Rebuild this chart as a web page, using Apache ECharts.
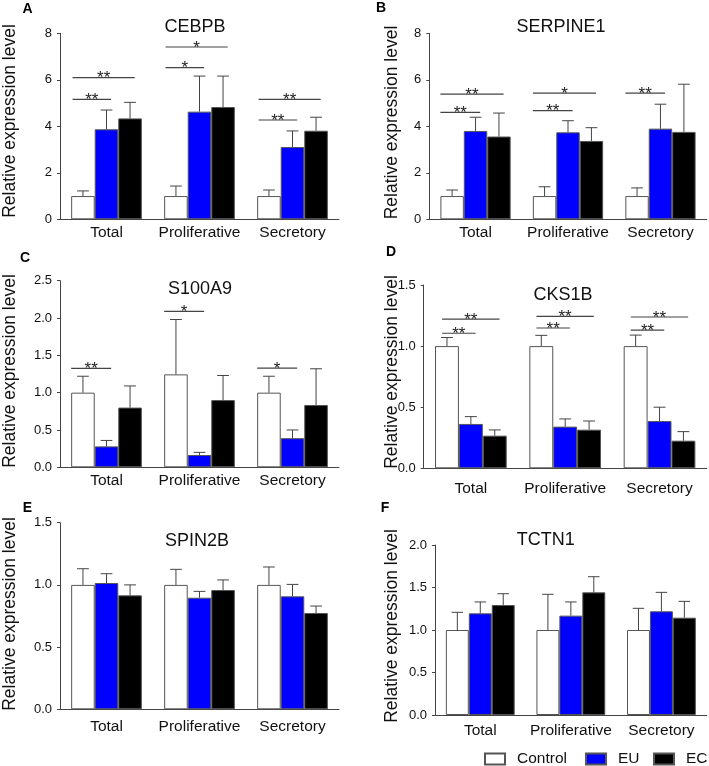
<!DOCTYPE html>
<html><head><meta charset="utf-8">
<script src="https://cdn.jsdelivr.net/npm/echarts@6/dist/echarts.min.js"></script>
<style>html,body{margin:0;padding:0;background:#fff}#c{width:709px;height:766px}</style>
</head><body><div id="c"></div>
<script>
const FONT = '"Liberation Sans", Arial, sans-serif';
const categories = ['Total', 'Proliferative', 'Secretory'];
const seriesNames = ['Control', 'EU', 'EC'];
const seriesColors = ['#ffffff', '#0000ff', '#000000'];
const yTitle = 'Relative expression level';

// A: CEBPB
const cebpbControl = [1.0, 1.0, 1.0];
const cebpbEU = [3.87, 4.63, 3.11];
const cebpbEC = [4.34, 4.83, 3.81];
const cebpbControlErr = [0.22, 0.43, 0.26];
const cebpbEUErr = [0.83, 1.53, 0.69];
const cebpbECErr = [0.69, 1.33, 0.58];
const cebpbTicks = [0, 2, 4, 6, 8];
const cebpbSig = [[0, 1, 5.16, '**'], [0, 2, 6.09, '**'], [1, 1, 6.52, '*'], [1, 2, 7.41, '*'], [2, 1, 4.27, '**'], [2, 2, 5.16, '**']];

// B: SERPINE1
const serpineControl = [1.0, 1.0, 1.0];
const serpineEU = [3.80, 3.74, 3.90];
const serpineEC = [3.56, 3.37, 3.76];
const serpineControlErr = [0.26, 0.40, 0.35];
const serpineEUErr = [0.59, 0.50, 1.05];
const serpineECErr = [1.01, 0.57, 2.05];
const serpineTicks = [0, 2, 4, 6, 8];
const serpineSig = [[0, 1, 4.60, '**'], [0, 2, 5.38, '**'], [1, 1, 4.67, '**'], [1, 2, 5.43, '*'], [2, 1, 5.43, '**']];

// C: S100A9
const s100Control = [1.0, 1.245, 1.0];
const s100EU = [0.28, 0.165, 0.39];
const s100EC = [0.80, 0.90, 0.835];
const s100ControlErr = [0.22, 0.735, 0.22];
const s100EUErr = [0.08, 0.035, 0.11];
const s100ECErr = [0.29, 0.33, 0.485];
const s100Ticks = [0, 0.5, 1.0, 1.5, 2.0, 2.5];
const s100Sig = [[0, 1, 1.326, '**'], [1, 1, 2.09, '*'], [2, 1, 1.33, '*']];

// D: CKS1B
const cksControl = [1.0, 1.0, 1.0];
const cksEU = [0.363, 0.341, 0.387];
const cksEC = [0.267, 0.316, 0.226];
const cksControlErr = [0.07, 0.088, 0.09];
const cksEUErr = [0.06, 0.063, 0.113];
const cksECErr = [0.047, 0.071, 0.074];
const cksTicks = [0, 0.5, 1.0, 1.5];
const cksSig = [[0, 1, 1.105, '**'], [0, 2, 1.22, '**'], [1, 1, 1.148, '**'], [1, 2, 1.244, '**'], [2, 1, 1.13, '**'], [2, 2, 1.238, '**']];

// E: SPIN2B
const spinControl = [1.0, 1.0, 1.0];
const spinEU = [1.015, 0.897, 0.908];
const spinEC = [0.916, 0.959, 0.774];
const spinControlErr = [0.13, 0.125, 0.144];
const spinEUErr = [0.075, 0.051, 0.096];
const spinECErr = [0.084, 0.081, 0.056];
const spinTicks = [0, 0.5, 1.0, 1.5];
const spinSig = [];

// F: TCTN1
const tctnControl = [1.0, 1.0, 1.0];
const tctnEU = [1.196, 1.169, 1.22];
const tctnEC = [1.294, 1.443, 1.145];
const tctnControlErr = [0.208, 0.42, 0.255];
const tctnEUErr = [0.134, 0.161, 0.223];
const tctnECErr = [0.133, 0.184, 0.192];
const tctnTicks = [0, 0.5, 1.0, 1.5, 2.0];
const tctnSig = [];

const panels = [
  {letter: 'A', gene: 'CEBPB', means: [cebpbControl, cebpbEU, cebpbEC], errs: [cebpbControlErr, cebpbEUErr, cebpbECErr], ticks: cebpbTicks, sig: cebpbSig},
  {letter: 'B', gene: 'SERPINE1', means: [serpineControl, serpineEU, serpineEC], errs: [serpineControlErr, serpineEUErr, serpineECErr], ticks: serpineTicks, sig: serpineSig},
  {letter: 'C', gene: 'S100A9', means: [s100Control, s100EU, s100EC], errs: [s100ControlErr, s100EUErr, s100ECErr], ticks: s100Ticks, sig: s100Sig},
  {letter: 'D', gene: 'CKS1B', means: [cksControl, cksEU, cksEC], errs: [cksControlErr, cksEUErr, cksECErr], ticks: cksTicks, sig: cksSig},
  {letter: 'E', gene: 'SPIN2B', means: [spinControl, spinEU, spinEC], errs: [spinControlErr, spinEUErr, spinECErr], ticks: spinTicks, sig: spinSig},
  {letter: 'F', gene: 'TCTN1', means: [tctnControl, tctnEU, tctnEC], errs: [tctnControlErr, tctnEUErr, tctnECErr], ticks: tctnTicks, sig: tctnSig}
];

// layout (pixels)
const layouts = [
  {left: 60, top: 33.3, width: 279, height: 186, titleX: 195, titleY: 29, letterX: 27.5, letterY: 9, yTitleX: 10, yTitleY: 121, labelMargin: 5, inset: 0.015},
  {left: 429.3, top: 33.3, width: 277.4, height: 186, titleX: 561, titleY: 29, letterX: 381, letterY: 8, yTitleX: 392, yTitleY: 122.5, labelMargin: 5, inset: 0.0},
  {left: 60, top: 280.7, width: 279, height: 186.6, titleX: 200, titleY: 291, letterX: 25, letterY: 258, yTitleX: 10, yTitleY: 371, labelMargin: 5, inset: 0.0},
  {left: 423.7, top: 285, width: 283, height: 183.3, titleX: 563, titleY: 297, letterX: 391, letterY: 252, yTitleX: 392, yTitleY: 372, labelMargin: 12, inset: 0.075},
  {left: 60, top: 522.7, width: 279, height: 186.6, titleX: 197, titleY: 542.7, letterX: 27.5, letterY: 508, yTitleX: 10, yTitleY: 614, labelMargin: 9, inset: 0},
  {left: 435, top: 545, width: 271.7, height: 170, titleX: 545.7, titleY: 541.7, letterX: 385, letterY: 508, yTitleX: 392, yTitleY: 626, labelMargin: 8, inset: 0}
];

const GAP = 0.24;
const AXIS = '#444';
const TEXT = '#111';

const option = {
  animation: false,
  backgroundColor: '#fff',
  grid: [], xAxis: [], yAxis: [], series: [], title: [], graphic: [],
  legend: [
    {data: ['Control'], left: 484, top: 751},
    {data: ['EU'], left: 585, top: 751},
    {data: ['EC'], left: 653, top: 751}
  ].map(l => Object.assign(l, {
    orient: 'horizontal', padding: 0, itemWidth: 20, itemHeight: 11, icon: 'rect', selectedMode: false,
    textStyle: {fontSize: 15.5, color: TEXT, fontFamily: FONT, padding: [0, 0, 0, 7]}
  }))
};

panels.forEach((P, k) => {
  const L = layouts[k];
  const t = P.ticks;
  const dec = Number.isInteger(t[1]) ? 0 : 1;
  option.grid.push({left: L.left, top: L.top, width: L.width, height: L.height});
  option.xAxis.push({
    type: 'category', gridIndex: k, data: categories,
    axisLine: {lineStyle: {color: AXIS, width: 1}}, axisTick: {show: false},
    axisLabel: {interval: 0, hideOverlap: false, margin: L.labelMargin, fontSize: 15.5, color: TEXT, fontFamily: FONT},
    splitLine: {show: false}
  });
  option.yAxis.push({
    type: 'value', gridIndex: k, min: t[0], max: t[t.length - 1], interval: t[1] - t[0],
    axisLine: {show: true, lineStyle: {color: AXIS, width: 1}},
    axisTick: {show: true, inside: false, length: 3, lineStyle: {color: AXIS}},
    axisLabel: {margin: 8, fontSize: 13, color: TEXT, fontFamily: FONT, formatter: v => v.toFixed(dec)},
    splitLine: {show: false}
  });
  seriesNames.forEach((nm, s) => {
    option.series.push({
      type: 'bar', name: nm, xAxisIndex: k, yAxisIndex: k, data: P.means[s],
      barGap: '0%', barCategoryGap: (GAP * 100) + '%', z: 2,
      itemStyle: {color: seriesColors[s], borderColor: '#555', borderWidth: 1}
    });
  });
  // error bars (upper only)
  seriesNames.forEach((nm, s) => {
    option.series.push({
      type: 'custom', name: nm + ' error', xAxisIndex: k, yAxisIndex: k, z: 3, silent: true,
      data: P.means[s].map((m, i) => [i, m, P.errs[s][i]]),
      encode: {x: 0, y: 1},
      renderItem: (params, api) => {
        const i = api.value(0), m = api.value(1), e = api.value(2);
        const base = api.coord([i, m]);
        const top = api.coord([i, m + e]);
        const bandW = api.size([1, 0])[0];
        const bw = bandW * (1 - GAP) / 3;
        const x = base[0] - bandW * (1 - GAP) / 2 + bw * (s + 0.5);
        const cap = bw * 0.25;
        const st = {stroke: '#444', lineWidth: 1};
        return {type: 'group', children: [
          {type: 'line', shape: {x1: x, y1: base[1], x2: x, y2: top[1]}, style: st},
          {type: 'line', shape: {x1: x - cap, y1: top[1], x2: x + cap, y2: top[1]}, style: st}
        ]};
      }
    });
  });
  // significance brackets
  if (P.sig.length) {
    option.series.push({
      type: 'custom', name: 'significance', xAxisIndex: k, yAxisIndex: k, z: 4, silent: true,
      data: P.sig.map(d => [d[0], d[2], d[1]]),
      encode: {x: 0, y: 1},
      renderItem: (params, api) => {
        const i = api.value(0), yv = api.value(1), to = api.value(2);
        const c = api.coord([i, yv]);
        const bandW = api.size([1, 0])[0];
        const bw = bandW * (1 - GAP) / 3;
        const groupLeft = c[0] - bandW * (1 - GAP) / 2;
        const x1 = groupLeft + bandW * L.inset;
        const x2 = groupLeft + bw * (to + 0.5) + bandW * 0.05;
        const label = P.sig[params.dataIndex][3];
        return {type: 'group', children: [
          {type: 'line', shape: {x1: x1, y1: c[1], x2: x2, y2: c[1]}, style: {stroke: '#444', lineWidth: 1.2}},
          {type: 'text', style: {text: label, x: (x1 + x2) / 2, y: c[1] + 1, align: 'center', verticalAlign: 'middle', fontSize: 17, fontFamily: FONT, fill: '#222'}}
        ]};
      }
    });
  }
  option.title.push({
    text: P.gene, left: L.titleX, top: L.titleY - 10.5, textAlign: 'center', padding: 0,
    textStyle: {fontSize: 18, fontWeight: 'normal', color: TEXT, fontFamily: FONT}
  });
  option.graphic.push({
    type: 'text', x: L.letterX, y: L.letterY,
    style: {text: P.letter, align: 'center', verticalAlign: 'middle', fontSize: 14, fontWeight: 'bold', fontFamily: FONT, fill: '#000'}
  });
  option.graphic.push({
    type: 'text', x: L.yTitleX, y: L.yTitleY, rotation: Math.PI / 2,
    style: {text: yTitle, align: 'center', verticalAlign: 'middle', fontSize: 17.5, fontFamily: FONT, fill: TEXT}
  });
});

const chart = echarts.init(document.getElementById('c'), null, {renderer: 'canvas'});
chart.setOption(option);
</script>
</body></html>
